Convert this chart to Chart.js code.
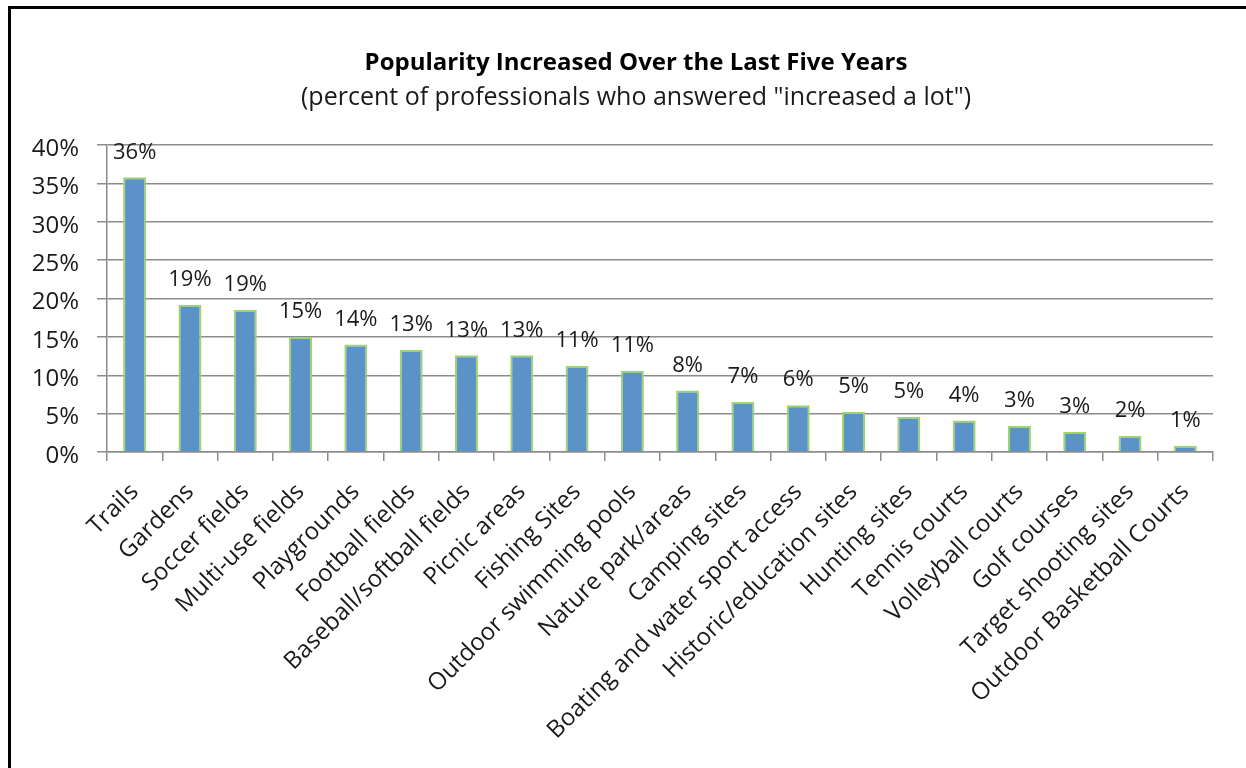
<!DOCTYPE html>
<html>
<head>
<meta charset="utf-8">
<script src="https://cdn.jsdelivr.net/npm/chart.js@4/dist/chart.umd.min.js"></script>
<style>
    html, body { margin: 0; padding: 0; background: #fff; }
    .frame {
        position: absolute;
        left: 8px;
        top: 6px;
        width: 1238px;
        height: 762px;
        border-top: 3px solid #000;
        border-left: 3px solid #000;
        pointer-events: none;
    }
    #popularityChart { position: absolute; left: 0; top: 0; }
</style>
</head>
<body>
<canvas id="popularityChart" width="1246" height="768"></canvas>
<div class="frame"></div>
<script>
'use strict';

// ── Data ────────────────────────────────────────────────────
const facilities = [
    'Trails', 'Gardens', 'Soccer fields', 'Multi-use fields', 'Playgrounds',
    'Football fields', 'Baseball/softball fields', 'Picnic areas', 'Fishing Sites',
    'Outdoor swimming pools', 'Nature park/areas', 'Camping sites',
    'Boating and water sport access', 'Historic/education sites', 'Hunting sites',
    'Tennis courts', 'Volleyball courts', 'Golf courses', 'Target shooting sites',
    'Outdoor Basketball Courts'
];
const increasedALot = [
    35.8, 19.2, 18.5, 15.0, 14.0, 13.3, 12.6, 12.6, 11.2, 10.6,
    8.0, 6.5, 6.1, 5.2, 4.6, 4.1, 3.4, 2.6, 2.1, 0.8
];
const yTicks = [0, 5, 10, 15, 20, 25, 30, 35, 40];

const chartTitle = 'Popularity Increased Over the Last Five Years';
const chartSubtitle = '(percent of professionals who answered "increased a lot")';

const FONT = '"Open Sans", Lato, sans-serif';
const textColor = '#1a1a1a';
const gridColor = '#8c8c8c';

// Two-line heading, centred a little right of the canvas middle
const heading = {
    id: 'heading',
    afterDraw(chart) {
        const { ctx } = chart;
        const cx = 636;
        ctx.save();
        ctx.textAlign = 'center';
        ctx.textBaseline = 'middle';
        ctx.fillStyle = '#000';
        ctx.font = 'bold 24px ' + FONT;
        ctx.fillText(chartTitle, cx, 63);
        ctx.fillStyle = textColor;
        ctx.font = '25px ' + FONT;
        ctx.fillText(chartSubtitle, cx, 98);
        ctx.restore();
    }
};

// Value labels above each bar, placed from the bar element itself
const barValueLabels = {
    id: 'barValueLabels',
    afterDatasetsDraw(chart) {
        const { ctx } = chart;
        const meta = chart.getDatasetMeta(0);
        ctx.save();
        ctx.font = '22px ' + FONT;
        ctx.fillStyle = textColor;
        ctx.textAlign = 'center';
        ctx.textBaseline = 'middle';
        meta.data.forEach((bar, i) => {
            ctx.fillText(Math.round(increasedALot[i]) + '%', bar.x, bar.y - 25);
        });
        ctx.restore();
    }
};

const canvas = document.getElementById('popularityChart');

new Chart(canvas, {
    type: 'bar',
    data: {
        labels: facilities,
        datasets: [{
            label: 'Increased a lot',
            data: increasedALot,
            backgroundColor: '#5b92c8',
            borderColor: '#9fd46a',
            borderWidth: 2,
            categoryPercentage: 1,
            barPercentage: 0.416,
        }]
    },
    options: {
        responsive: false,
        animation: false,
        layout: { padding: { left: 20, right: 33, top: 145, bottom: 0 } },
        plugins: {
            legend: { display: false },
            tooltip: { enabled: false },
            title: { display: false }
        },
        scales: {
            x: {
                afterFit: (scale) => { scale.height = 316; },
                grid: {
                    offset: true,
                    drawOnChartArea: false,
                    color: gridColor,
                    lineWidth: 1.5,
                    tickLength: 9
                },
                border: { color: gridColor, width: 1.5 },
                ticks: {
                    color: textColor,
                    font: { family: FONT, size: 24 },
                    minRotation: 45,
                    maxRotation: 45,
                    autoSkip: false,
                    padding: 17
                }
            },
            y: {
                min: 0,
                max: 40,
                afterFit: (scale) => { scale.width = 87; },
                afterBuildTicks: (scale) => { scale.ticks = yTicks.map(v => ({ value: v })); },
                grid: { color: gridColor, lineWidth: 1.5, tickLength: 10 },
                border: { color: gridColor, width: 1.5 },
                ticks: {
                    color: textColor,
                    font: { family: FONT, size: 24 },
                    padding: 18,
                    labelOffset: 4,
                    callback: (value) => value + '%'
                }
            }
        }
    },
    plugins: [barValueLabels, heading]
});
</script>
</body>
</html>
